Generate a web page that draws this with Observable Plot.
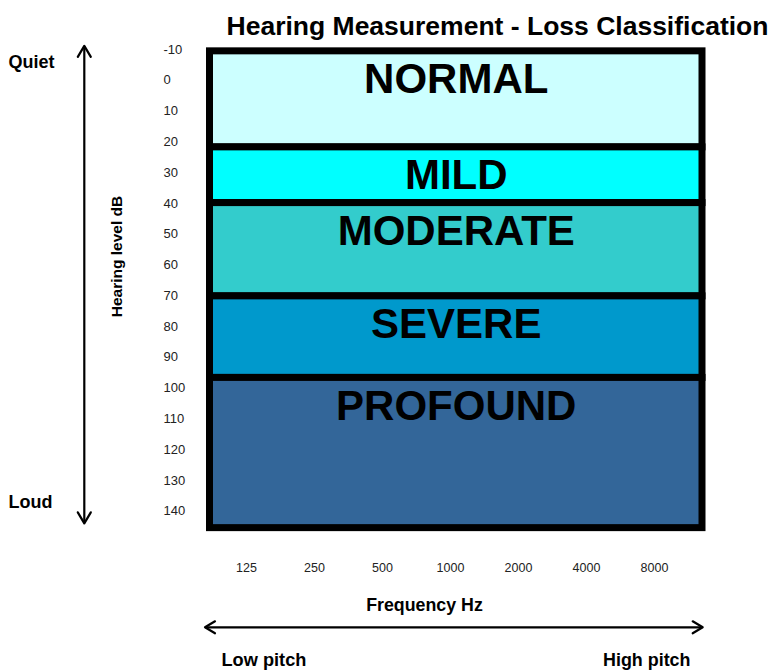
<!DOCTYPE html>
<html>
<head>
<meta charset="utf-8">
<script src="https://cdn.jsdelivr.net/npm/d3@7"></script>
<script src="https://cdn.jsdelivr.net/npm/@observablehq/plot@0.6"></script>
<style>
  html, body { margin: 0; padding: 0; background: #fff; }
  svg { display: block; }
</style>
</head>
<body>
<div id="chart"></div>
<script>
// ---- data ----
const categories = ["NORMAL", "MILD", "MODERATE", "SEVERE", "PROFOUND"];
const bandStart  = [-9.4, 21.8, 39.9, 70.2, 96.7];   // dB (top of band)
const bandEnd    = [21.8, 39.9, 70.2, 96.7, 145.5];  // dB (bottom of band)
const bandColors = ["#CCFFFF", "#00FFFF", "#33CCCC", "#0099CC", "#336699"];
const yTicks = [-10, 0, 10, 20, 30, 40, 50, 60, 70, 80, 90, 100, 110, 120, 130, 140];
const frequencies = ["125", "250", "500", "1000", "2000", "4000", "8000"];
const titleText = "Hearing Measurement - Loss Classification";
const yLabel = "Hearing level dB";
const xLabel = "Frequency Hz";

const bands = categories.map((name, i) => ({
  name, start: bandStart[i], end: bandEnd[i], color: bandColors[i]
}));

const W = 770, H = 671;
const font = "'Liberation Sans', Arial, Helvetica, sans-serif";

const plot = Plot.plot({
  width: W,
  height: H,
  marginLeft: 209.5,
  marginRight: 68,
  marginTop: 51,
  marginBottom: 143,
  style: { fontFamily: font, background: "#fff", color: "#000", overflow: "visible" },
  x: { type: "point", domain: frequencies, range: [243.3, 656.7], padding: 0 },
  y: { domain: [-10, 140], range: [49, 510.7] },
  marks: [
    Plot.rect(bands, {
      y1: "start", y2: "end", fill: "color",
      stroke: "#000", strokeWidth: 7
    }),
    Plot.text(bands, {
      y: "start", text: "name", frameAnchor: "middle",
      dy: 42, lineAnchor: "bottom", textAnchor: "middle",
      fontSize: 42, fontWeight: "bold", fill: "#000"
    }),
    Plot.axisY(yTicks, {
      anchor: "left", tickSize: 0, tickPadding: 46.5, textAnchor: "start",
      tickFormat: d => String(d),
      fontSize: 13, fill: "#222", label: null
    }),
    Plot.axisX(frequencies, {
      anchor: "bottom", tickSize: 0, tickPadding: 34.5,
      fontSize: 12.5, fill: "#222", label: null
    }),
    Plot.text([titleText], {
      text: d => d, frameAnchor: "top", dx: 41.25, dy: -17, lineAnchor: "bottom",
      textAnchor: "middle", fontSize: 26.5, fontWeight: "bold", fill: "#000"
    }),
    Plot.text(["Quiet"], {
      text: d => d, frameAnchor: "top-left", dx: -201.5, dy: 16.5, textAnchor: "start",
      lineAnchor: "bottom", fontSize: 18, fontWeight: "bold", fill: "#000"
    }),
    Plot.text(["Loud"], {
      text: d => d, frameAnchor: "bottom-left", dx: -201.5, dy: -21, textAnchor: "start",
      lineAnchor: "bottom", fontSize: 18, fontWeight: "bold", fill: "#000"
    }),
    Plot.text([yLabel], {
      text: d => d, frameAnchor: "left", dx: -88.5, dy: -33.5, rotate: -90,
      textAnchor: "middle", lineAnchor: "bottom",
      fontSize: 15.5, fontWeight: "bold", fill: "#000"
    }),
    Plot.text([xLabel], {
      text: d => d, frameAnchor: "bottom", dx: -31.75, dy: 82,
      textAnchor: "middle", lineAnchor: "bottom",
      fontSize: 17.8, fontWeight: "bold", fill: "#000"
    }),
    Plot.text(["Low pitch"], {
      text: d => d, frameAnchor: "bottom-left", dx: 11.5, dy: 137, textAnchor: "start",
      lineAnchor: "bottom", fontSize: 18.2, fontWeight: "bold", fill: "#000"
    }),
    Plot.text(["High pitch"], {
      text: d => d, frameAnchor: "bottom-right", dx: -12, dy: 137, textAnchor: "end",
      lineAnchor: "bottom", fontSize: 17.9, fontWeight: "bold", fill: "#000"
    })
  ]
});

// ---- arrows (annotation) positioned from the plot's scales/frame ----
const y = plot.scale("y");
const svg = d3.select(plot);
const g = svg.append("g").attr("fill", "none").attr("stroke", "#000")
  .attr("stroke-width", 2.2).attr("stroke-linecap", "round").attr("stroke-linejoin", "round");

const vx = 84.3, vTop = y.apply(-11), vBot = y.apply(144.1);
g.append("path").attr("d", `M${vx},${vTop + 1}V${vBot - 1}`);
g.append("path").attr("d", `M${vx - 6.5},${vTop + 11}L${vx},${vTop}L${vx + 6.5},${vTop + 11}`);
g.append("path").attr("d", `M${vx - 6.5},${vBot - 11}L${vx},${vBot}L${vx + 6.5},${vBot - 11}`);

const hy = 627.3, hL = 209.5 - 4.5, hR = W - 68 + 0.7;
g.append("path").attr("d", `M${hL + 1},${hy}H${hR - 1}`);
g.append("path").attr("d", `M${hL + 10},${hy - 6}L${hL},${hy}L${hL + 10},${hy + 6}`);
g.append("path").attr("d", `M${hR - 10},${hy - 6}L${hR},${hy}L${hR - 10},${hy + 6}`);

document.getElementById("chart").appendChild(plot);
</script>
</body>
</html>
